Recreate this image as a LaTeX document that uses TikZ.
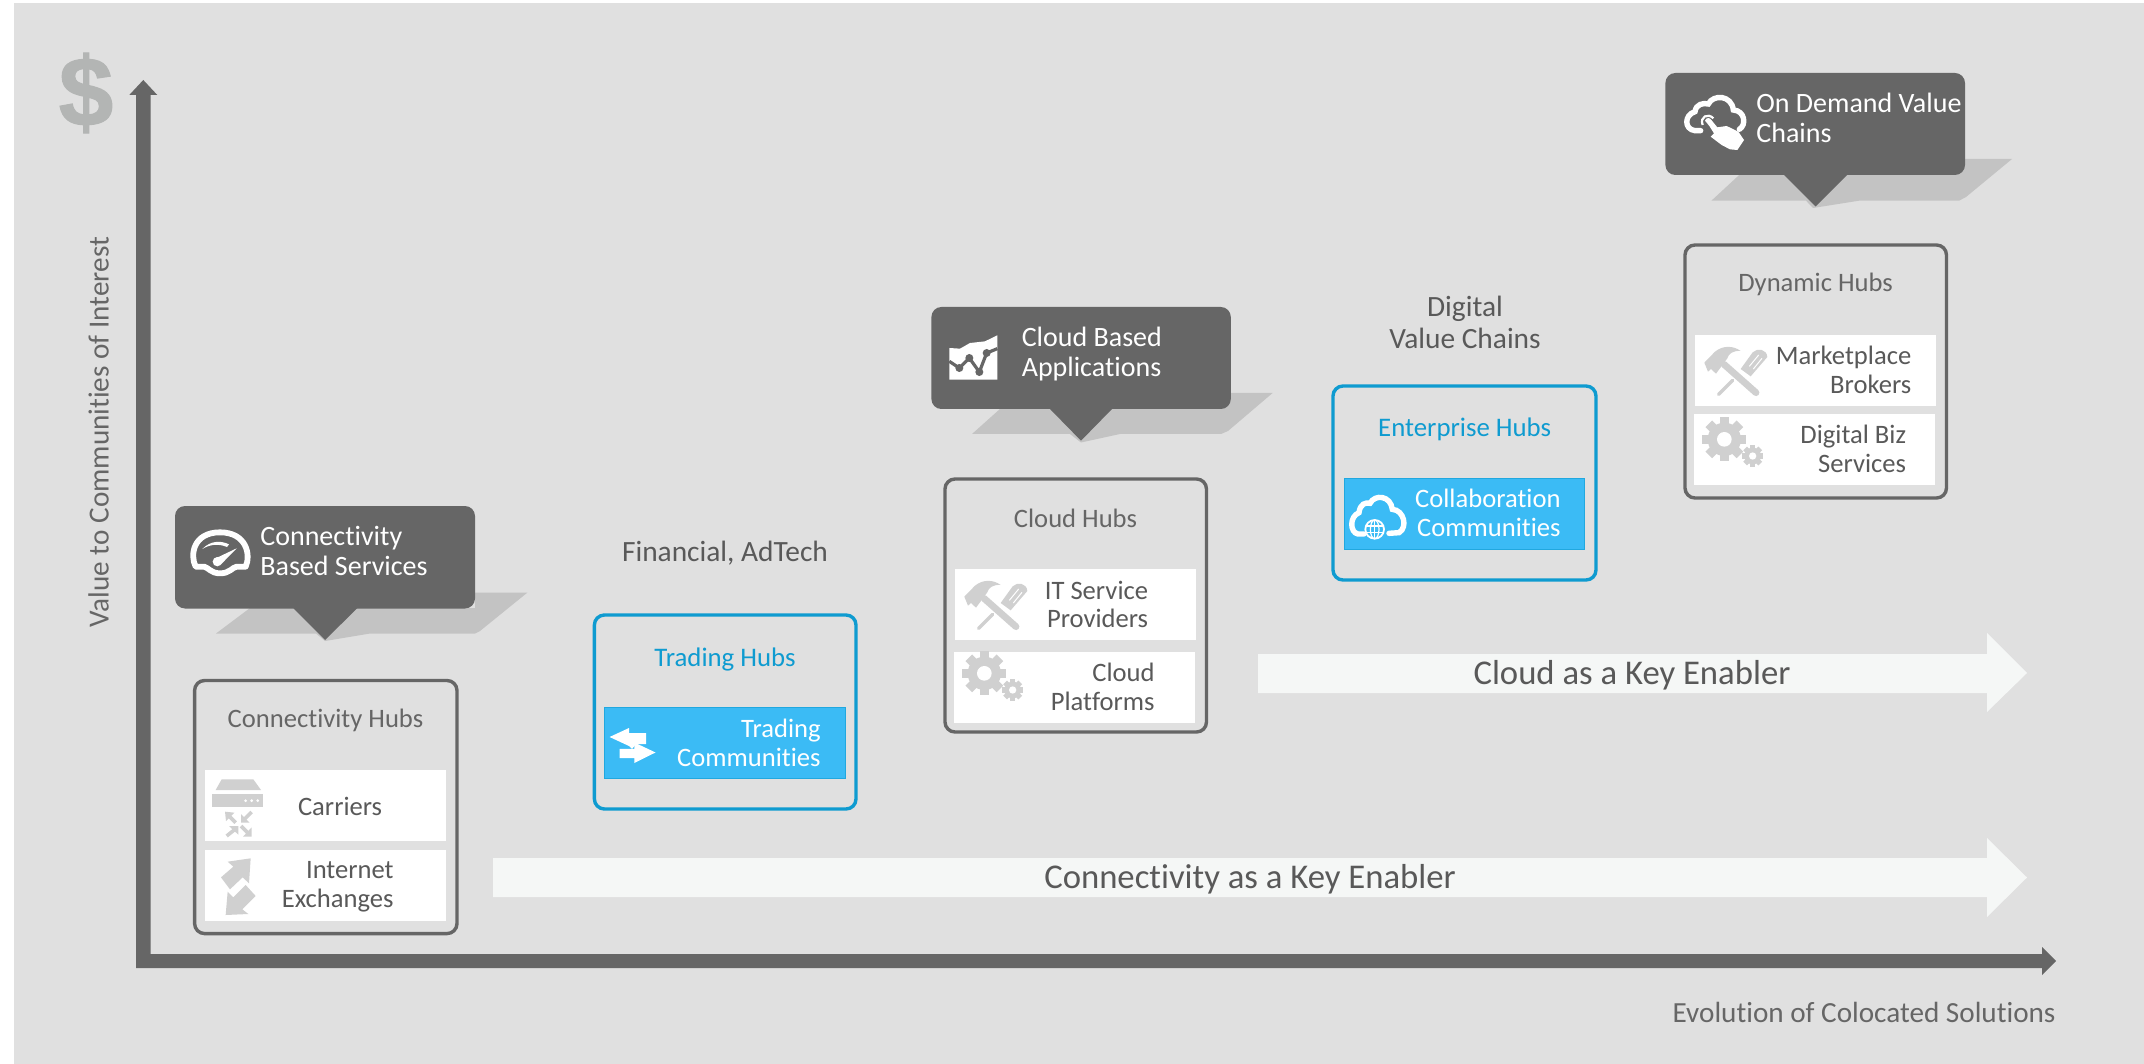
\documentclass[tikz,border=0pt]{standalone}
\usepackage{fontspec}
\setmainfont[Ligatures=CommonOff]{Carlito}
\newfontfamily\dollarfont[FakeBold=1.2]{Liberation Sans Bold}
\definecolor{bgc}{HTML}{E0E0E0}
\definecolor{darkc}{HTML}{666666}
\definecolor{txtc}{HTML}{595959}
\definecolor{shadowc}{HTML}{C3C3C3}
\definecolor{iconc}{HTML}{D0D0D0}
\definecolor{bluec}{HTML}{0F9BD0}
\definecolor{rowblue}{HTML}{3BBBF5}
\definecolor{lightarrow}{HTML}{F5F7F6}
\definecolor{dollarc}{HTML}{B3B5B4}
\tikzset{
  hubgray/.style={draw=darkc,line width=1.7pt,rounded corners=5pt},
  hubblue/.style={draw=bluec,line width=1.7pt,rounded corners=5pt},
  whiterow/.style={fill=white},
  bluerow/.style={fill=rowblue,draw=bluec!60!rowblue,line width=.4pt},
  calloutfill/.style={fill=darkc},
  shadowfill/.style={fill=shadowc},
  bigarrow/.style={fill=lightarrow},
  calltext/.style={inner sep=0pt,text=white,align=left,anchor=west,font=\fontsize{14}{15.3}\selectfont},
  titletext/.style={inner sep=0pt,text=darkc,font=\fontsize{13.3}{15}\selectfont},
  bluetitle/.style={inner sep=0pt,text=bluec,font=\fontsize{13.4}{15}\selectfont},
  rowtext/.style={inner sep=0pt,text=txtc,align=right,anchor=east,font=\fontsize{13.3}{14.4}\selectfont},
  bluetext/.style={inner sep=0pt,text=white,align=right,anchor=east,font=\fontsize{13.3}{14.4}\selectfont},
  sidetext/.style={inner sep=0pt,text=txtc,align=center,font=\fontsize{14.7}{15.9}\selectfont},
  axistext/.style={inner sep=0pt,text=darkc,font=\fontsize{14.6}{16}\selectfont},
  bigtext/.style={inner sep=0pt,text=txtc,font=\fontsize{17.35}{19}\selectfont},
  zoomed/.style={x=0.166667pt,y=-0.166667pt},
}
% x1 y1 x2 y2 tailleft tipx tailright tipy
\newcommand{\callout}[8]{%
  \fill[calloutfill,rounded corners=5pt] (#1,#2) rectangle (#3,#4);
  \fill[calloutfill] (#5,#4-1) -- (#5,#4) -- (#6,#8) -- (#7,#4) -- (#7,#4-1) -- cycle;
}
% tool icons, given in 3x crop units from an origin
\newcommand{\toolicons}[2]{%
  \begin{scope}[shift={(#1,#2)},zoomed]
    \fill[iconc] (13,65) -- (45,32) .. controls (70,12) and (100,14) .. (122,30) .. controls (100,28) and (85,38) .. (82,52) -- (48,98) -- (33,84) -- (24,92) -- cycle;
    \draw[iconc,line width=3.4pt,line cap=round] (72,70) -- (168,155);
    \fill[iconc] (122,84) -- (158,34) .. controls (172,20) and (200,24) .. (202,48) -- (152,106) -- cycle;
    \draw[white,line width=.5pt] (148,76) -- (176,42) (160,84) -- (186,52);
    \draw[iconc,line width=1.7pt,line cap=round] (98,118) -- (56,160);
    \fill[iconc] (73,295) circle[radius=50];
    \foreach \a in {0,45,...,315}{\fill[iconc,rotate around={\a:(73,295)}] (59,229) rectangle (87,259);}
    \fill[white] (73,295) circle[radius=22];
    \fill[iconc] (158,345) circle[radius=25];
    \foreach \a in {0,45,...,315}{\fill[iconc,rotate around={\a:(158,345)}] (150,313) rectangle (166,330);}
    \fill[white] (158,345) circle[radius=11];
  \end{scope}
}
\begin{document}
\begin{tikzpicture}[x=0.5pt,y=-0.5pt]
\useasboundingbox (0,0) rectangle (2144,1064);
\fill[white] (0,0) rectangle (2144,1064);
\fill[bgc] (14,3) rectangle (2144,1064);

% dollar
\node[inner sep=0pt,text=dollarc] (dollar) at (86,93) {\dollarfont\fontsize{49}{49}\selectfont \$};

% axes
\fill[darkc] (136,968) -- (136,95) -- (129.3,95) -- (143.3,80) -- (157.3,95) -- (150.5,95) -- (150.5,954) -- (2042,954) -- (2042,947) -- (2056,961) -- (2042,975) -- (2042,968) -- cycle;

\node[axistext,rotate=90] (ylabel) at (98.5,432) {Value to Communities of Interest};
\node[axistext,anchor=east] (xlabel) at (2056,1012.5) {Evolution of Colocated Solutions};

% big arrows
\fill[bigarrow] (493,858) -- (1987,858) -- (1987,838) -- (2027,877.5) -- (1987,917) -- (1987,897) -- (493,897) -- cycle;
\fill[bigarrow] (1258,654) -- (1987,654) -- (1987,633) -- (2027,673) -- (1987,712) -- (1987,693) -- (1258,693) -- cycle;
\node[bigtext] (connarrow) at (1250,879) {Connectivity as a Key Enabler};
\node[bigtext] (cloudarrow) at (1632,675) {Cloud as a Key Enabler};

% shadows
\fill[shadowfill] (216,633.5) -- (250,608) -- (475,608) -- (475,592.5) -- (527.5,592.5) -- (480,631) -- (475,633.5) -- (370,633.5) -- (325,641) -- (316,633.5) -- cycle;
\fill[shadowfill] (972,434) -- (1010,400) -- (1230,400) -- (1230,393) -- (1272.6,393) -- (1228,431) -- (1221,434) -- (1120,434) -- (1081,442.5) -- (1070,434) -- cycle;
\fill[shadowfill] (1711.4,200.7) -- (1750,165) -- (1965,165) -- (1965,159) -- (2012,159) -- (1966,197) -- (1959,200.7) -- (1859,200.7) -- (1813,208) -- (1806,200.7) -- cycle;

% callouts
\callout{175}{506}{475}{608.5}{293.6}{325}{357}{640}
\callout{931.4}{307}{1230.8}{409}{1050}{1081}{1112}{440.7}
\callout{1665.4}{73}{1965}{175}{1784}{1815.6}{1847}{206.4}

\node[calltext] (c1) at (260,551) {Connectivity\\Based Services};
\node[calltext] (c2) at (1021.4,354) {Cloud Based\\Applications};
\node[calltext] (c3) at (1756,118) {On Demand Value\\Chains};

% gauge icon
\begin{scope}[shift={(185,525)},zoomed]
  \draw[white,line width=2.9pt,line join=round] (32,125) .. controls (14,90) and (25,22) .. (105,22) .. controls (185,22) and (198,90) .. (182,125) -- (155,125) .. controls (140,128) and (135,145) .. (105,145) .. controls (78,145) and (70,128) .. (58,125) -- cycle;
  \fill[white] (52,72) .. controls (75,48) and (105,45) .. (132,58) -- (126,66) .. controls (100,55) and (75,58) .. (52,72) -- cycle;
  \fill[white] (97,110) circle[radius=14];
  \fill[white] (92,100) -- (155,70) -- (108,118) -- cycle;
\end{scope}

% chart icon
\begin{scope}[shift={(940,328)},zoomed]
  \fill[white] (28,60) -- (60,62) -- (90,45) -- (135,40) -- (172,22) -- (172,155) -- (28,155) -- cycle;
  \draw[darkc,line width=1.6pt] (28,100) -- (58,120) -- (88,90) -- (118,132) -- (140,75) -- (172,62);
  \foreach \p in {(58,120),(88,90),(118,132),(140,75)}{\fill[darkc] \p circle[radius=12];}
\end{scope}

% cloud and hand icon
\begin{scope}[shift={(1680,90)},zoomed]
  \draw[white,line width=2.7pt,line cap=round] (62,122) -- (45,122) .. controls (12,118) and (12,75) .. (45,65) .. controls (48,42) and (70,38) .. (85,42) .. controls (100,12) and (155,15) .. (160,60) .. controls (195,62) and (200,105) .. (178,118);
  \draw[white,line width=1.1pt] (68,105) .. controls (58,80) and (85,68) .. (100,85);
  \fill[white] (75,92) .. controls (78,82) and (90,82) .. (94,90) -- (112,112) -- (140,108) -- (175,125) -- (192,150) -- (172,180) -- (150,178) -- (125,165) -- (92,140) -- (102,130) -- (88,108) -- cycle;
\end{scope}

% hubs, grey
\draw[hubgray] (194.6,680.5) rectangle (457,933.6);
\fill[whiterow] (205,770) rectangle (446.4,841);
\fill[whiterow] (205,850) rectangle (446.4,921);
\node[titletext] (h1) at (325.5,720) {Connectivity Hubs};
\node[rowtext] (r1a) at (382.5,806) {Carriers};
\node[rowtext] (r1b) at (394,886.5) {Internet\\Exchanges};

\draw[hubgray] (945,479) rectangle (1206.5,732);
\fill[whiterow] (955,569) rectangle (1196,640);
\fill[whiterow] (954,652) rectangle (1195,723);
\node[titletext] (h3) at (1075.5,518) {Cloud Hubs};
\node[rowtext] (r3a) at (1148.5,604.5) {IT Service\\Providers};
\node[rowtext] (r3b) at (1155,687) {Cloud\\Platforms};

\draw[hubgray] (1685,245) rectangle (1946.5,498);
\fill[whiterow] (1695,335) rectangle (1936,406);
\fill[whiterow] (1694,414) rectangle (1935,485);
\node[titletext] (h5) at (1815.6,284.5) {Dynamic Hubs};
\node[rowtext] (r5a) at (1911.6,369.5) {Marketplace\\Brokers};
\node[rowtext] (r5b) at (1906.5,449) {Digital Biz\\Services};

% hubs, blue
\draw[hubblue] (594.4,615) rectangle (856,809);
\fill[bluerow] (604.5,707.5) rectangle (845.6,778.6);
\node[bluetitle] (h2) at (725,659.5) {Trading Hubs};
\node[bluetext] (r2) at (821,742.5) {Trading\\Communities};
\node[sidetext] (s2) at (725,553.5) {Financial, AdTech};

\draw[hubblue] (1333,386) rectangle (1596,580);
\fill[bluerow] (1344.5,478) rectangle (1584.4,549);
\node[bluetitle] (h4) at (1464.7,429.5) {Enterprise Hubs};
\node[bluetext] (r4) at (1561,513) {Collaboration\\Communities};
\node[sidetext] (s4) at (1465,322.5) {Digital\\Value Chains};

% tools
\toolicons{960}{575}
\toolicons{1700}{341}

% server icon and exchange arrows
\begin{scope}[shift={(205,770)},zoomed]
  \fill[iconc] (50,28) -- (145,28) -- (168,60) -- (32,60) -- cycle;
  \fill[iconc] (20,72) rectangle (175,110);
  \foreach \q in {122,140,158}{\fill[white] (\q,92) circle[radius=4.5];}
  \fill[iconc] (60,125) -- (88,128) -- (63,153) -- cycle;
  \draw[iconc,line width=1.8pt] (72,138) -- (92,158);
  \fill[iconc] (108,158) -- (108,132) -- (134,158) -- cycle;
  \draw[iconc,line width=1.8pt] (116,150) -- (140,126);
  \fill[iconc] (100,168) -- (72,168) -- (100,194) -- cycle;
  \draw[iconc,line width=1.8pt] (90,178) -- (65,198);
  \fill[iconc] (140,200) -- (140,172) -- (114,200) -- cycle;
  \draw[iconc,line width=1.8pt] (130,190) -- (108,168);
  \fill[iconc] (137,265) -- (132,340) -- (113,322) -- (75,358) -- (48,322) -- (85,290) -- (68,275) -- cycle;
  \fill[iconc] (62,435) -- (68,365) -- (85,382) -- (122,345) -- (152,378) -- (112,418) -- (130,432) -- cycle;
\end{scope}

% trading arrows icon
\fill[white] (609.6,737) -- (629,728) -- (629,733) -- (646,733) -- (646,744) -- (636,744) -- (632,749) -- (629,746) -- cycle;
\fill[white] (655.5,752.5) -- (634.4,742.5) -- (634.4,748.8) -- (619.7,748.8) -- (619.7,758) -- (634.4,758) -- (634.4,763) -- cycle;

% cloud and globe icon
\begin{scope}[shift={(1344,490)},zoomed]
  \draw[white,line width=2.7pt,line cap=round] (60,132) -- (42,132) .. controls (18,128) and (15,80) .. (45,68) .. controls (48,42) and (65,36) .. (78,40) .. controls (92,12) and (140,16) .. (145,58) .. controls (180,60) and (192,112) .. (165,128) -- (135,130);
  \draw[white,line width=.9pt] (92,118) circle[radius=28];
  \draw[white,line width=.6pt] (92,118) ellipse[x radius=13,y radius=28];
  \draw[white,line width=.6pt] (92,90) -- (92,146) (66,108) -- (118,108) (66,128) -- (118,128);
\end{scope}
\end{tikzpicture}
\end{document}
